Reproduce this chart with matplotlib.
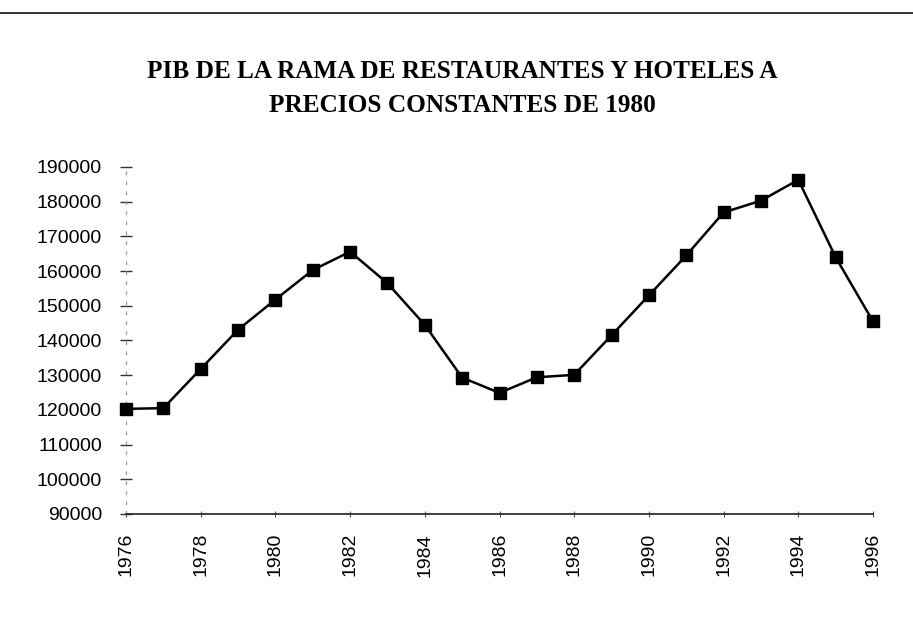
#!/usr/bin/env python3
"""
PIB restaurantes y hoteles, precios constantes de 1980
Line chart with square markers, 1976-1996.
"""

import matplotlib
matplotlib.use('Agg')
import matplotlib.pyplot as plt
from matplotlib.lines import Line2D

# Data
years = [1976, 1977, 1978, 1979, 1980, 1981, 1982, 1983, 1984, 1985, 1986,
         1987, 1988, 1989, 1990, 1991, 1992, 1993, 1994, 1995, 1996]
pib = [120300, 120500, 131800, 143100, 151800, 160300, 165600, 156500, 144500,
       129300, 124900, 129400, 130100, 141500, 153000, 164500, 176900, 180300,
       186300, 164000, 145500]

x_ticks = [1976, 1978, 1980, 1982, 1984, 1986, 1988, 1990, 1992, 1994, 1996]
y_ticks = [90000, 100000, 110000, 120000, 130000, 140000, 150000, 160000,
           170000, 180000, 190000]

title_lines = ['PIB DE LA RAMA DE RESTAURANTES Y HOTELES A',
               'PRECIOS CONSTANTES DE 1980']

W, H = 913, 618


def main():
    fig = plt.figure(figsize=(W / 100, H / 100), dpi=100)
    fig.patch.set_facecolor('white')

    # axes box in pixel terms
    left, right, top, bottom = 126, 873, 167, 514
    ax = fig.add_axes([left / W, (H - bottom) / H, (right - left) / W, (bottom - top) / H])

    ax.plot(years, pib, color='black', linewidth=1.8, marker='s',
            markersize=8.8, markerfacecolor='black', markeredgecolor='black',
            clip_on=False, zorder=3)

    ax.set_xlim(1976, 1996)
    ax.set_ylim(90000, 190000)
    ax.set_xticks(x_ticks)
    ax.set_xticklabels([str(y) for y in x_ticks], rotation=90,
                       family=['Liberation Sans', 'DejaVu Sans'], fontsize=14)
    ax.set_yticks(y_ticks)
    ax.set_yticklabels([str(v) for v in y_ticks],
                       family=['Liberation Sans', 'DejaVu Sans'], fontsize=14)

    ax.tick_params(axis='y', direction='inout', length=8.6, width=1.0,
                   pad=13, color='#333333')
    ax.tick_params(axis='x', direction='inout', length=4.5, width=0.8,
                   pad=11.5, color='#555555')

    for side in ('top', 'right'):
        ax.spines[side].set_visible(False)
    ax.spines['bottom'].set_linewidth(1.2)
    ax.spines['bottom'].set_color('#222222')
    ax.spines['left'].set_linewidth(0.9)
    ax.spines['left'].set_color('#999999')
    ax.spines['left'].set_linestyle((0, (2, 6)))

    # title, two centered lines
    cx = 462 / W
    fig.text(cx, (H - 78) / H, title_lines[0], ha='center', va='baseline',
             family=['Liberation Serif', 'DejaVu Serif'], fontweight='bold',
             fontsize=18.2)
    fig.text(cx, (H - 112) / H, title_lines[1], ha='center', va='baseline',
             family=['Liberation Serif', 'DejaVu Serif'], fontweight='bold',
             fontsize=18.2)

    # rule across the top of the page
    fig.add_artist(Line2D([0, 1], [(H - 13) / H, (H - 13) / H],
                          color='#333333', linewidth=1.4,
                          transform=fig.transFigure))

    fig.savefig('out.png', dpi=100, facecolor='white')
    plt.close(fig)


if __name__ == '__main__':
    main()
